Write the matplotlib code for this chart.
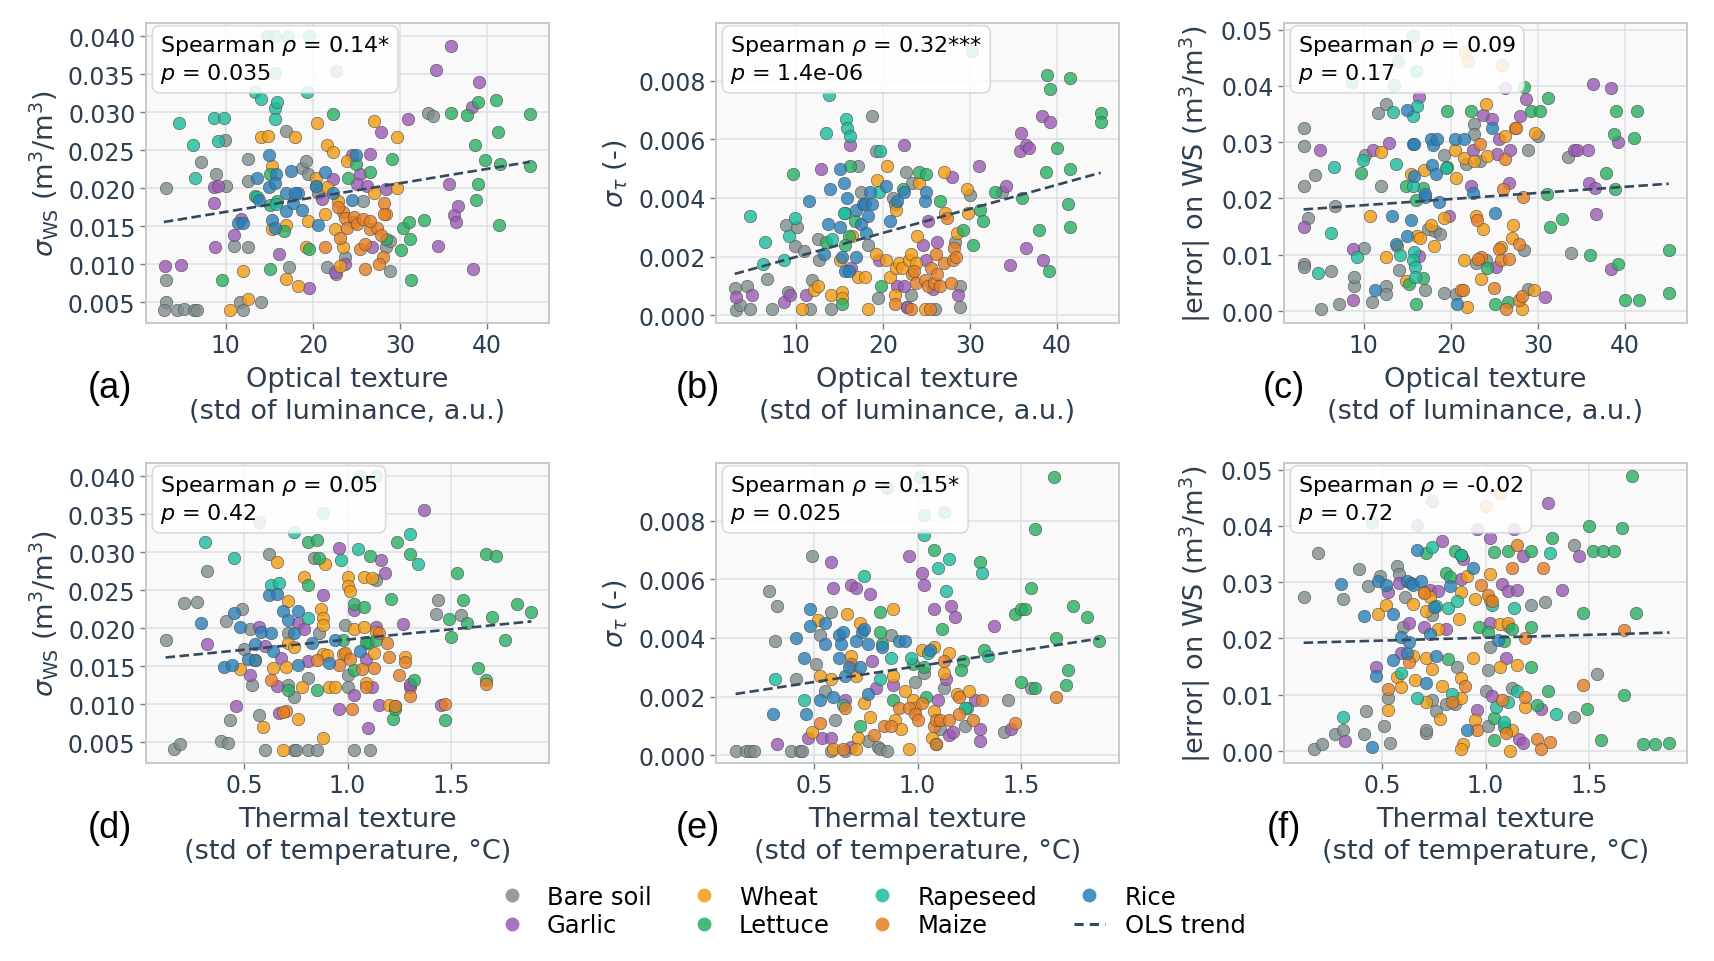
import matplotlib
matplotlib.use('Agg')
import matplotlib.pyplot as plt
import numpy as np
from matplotlib.lines import Line2D

# ---------------- data (y values in units of 1e-3) ----------------
crops = ['Bare soil', 'Garlic', 'Wheat', 'Lettuce', 'Rapeseed', 'Maize', 'Rice']
crop_colors = ['#7f8c8d', '#9b59b6', '#f39c12', '#27ae60', '#1abc9c', '#e67e22', '#2980b9']

# panel (a): optical texture vs sigma_WS
pa_bare = [(3.2,20.0),(3.1,7.9),(3.2,5.0),(2.9,4.0),(4.4,4.0),(5.2,4.1),(6.4,4.0),(6.7,4.0),(7.2,23.4),(8.9,21.9),(9.9,26.4),(10.0,20.3),(10.9,12.4),(11.6,5.0),(12.0,4.0),(12.5,23.8),(12.6,21.0),(12.6,12.2),(14.0,5.0),(16.9,27.5),(17.3,9.6),(18.8,22.7),(19.2,23.6),(19.4,21.8),(20.4,20.3),(20.6,19.4),(21.6,9.6),(22.7,8.7),(22.7,35.4),(23.7,10.9),(25.8,18.3),(28.4,12.2),(28.8,9.1),(28.8,13.1),(33.2,29.9),(33.8,29.5)]
pa_garlic = [(3.0,9.7),(4.9,9.9),(8.7,20.2),(8.7,18.0),(8.8,12.2),(9.1,20.3),(11.0,13.8),(11.7,15.9),(16.1,11.3),(19.6,6.9),(21.0,18.6),(22.3,21.2),(22.5,8.9),(23.7,10.0),(24.5,24.4),(25.4,21.8),(25.1,20.5),(26.2,20.3),(26.6,24.5),(26.8,12.2),(27.8,27.4),(28.4,19.9),(30.9,29.1),(34.1,35.6),(35.8,38.7),(34.4,12.4),(35.6,20.5),(36.2,16.4),(36.4,15.6),(36.7,17.7),(38.3,30.7),(39.1,34.0),(38.4,9.4)]
pa_wheat = [(10.5,4.0),(12.0,9.1),(12.5,5.4),(14.0,26.7),(14.9,26.9),(15.3,22.9),(15.3,14.6),(16.9,15.1),(16.9,8.1),(17.9,26.7),(18.3,7.1),(19.2,12.3),(19.4,15.7),(20.5,28.6),(20.4,21.4),(21.6,25.7),(22.3,24.8),(21.4,16.6),(22.5,14.6),(22.9,18.3),(23.5,12.2),(23.1,9.8),(23.9,23.6),(24.7,15.5),(27.0,28.8),(27.0,19.3),(29.7,26.7),(29.7,20.0),(28.4,16.6),(21.6,20.1)]
pa_lettuce = [(9.6,7.9),(13.4,19.0),(15.1,21.8),(15.1,17.8),(15.9,18.3),(16.7,14.3),(15.1,9.4),(19.5,12.0),(22.3,29.7),(24.0,21.3),(24.9,23.2),(26.6,22.1),(29.1,23.9),(28.4,13.3),(30.1,11.8),(30.3,14.7),(31.0,15.6),(31.1,13.3),(31.3,7.9),(32.8,15.8),(35.8,29.9),(37.7,29.6),(38.6,25.7),(38.9,31.4),(39.0,20.6),(38.7,18.5),(39.8,23.7),(41.0,31.6),(41.3,27.4),(41.5,23.2),(41.4,15.1),(44.9,29.8),(44.9,22.9)]
pa_rapeseed = [(4.6,28.6),(6.2,25.7),(6.5,21.4),(8.6,29.3),(9.8,29.3),(9.1,26.2),(13.4,32.6),(14.0,31.7),(15.6,30.6),(15.9,31.3),(15.6,29.1),(19.3,32.7),(14.7,40.0),(15.7,40.0),(17.1,39.9),(19.6,40.0),(15.7,35.2),(13.6,18.8),(15.8,17.9)]
pa_maize = [(21.4,12.3),(23.1,13.5),(23.5,16.9),(23.7,16.1),(23.9,14.8),(24.7,16.2),(25.1,15.3),(25.4,12.0),(25.8,15.9),(26.0,12.7),(26.0,9.4),(26.6,14.6),(27.4,14.8),(27.8,13.8),(28.0,10.9),(27.6,10.0),(28.2,18.0),(28.2,16.6),(22.9,17.5),(26.6,15.7)]
pa_rice = [(11.4,15.4),(12.0,15.4),(13.6,21.3),(13.8,18.4),(15.0,24.4),(15.0,20.2),(15.3,15.8),(15.7,14.8),(15.8,21.9),(15.7,20.7),(16.9,19.4),(16.9,17.0),(17.5,22.3),(17.7,18.1),(18.3,19.3),(18.8,17.1),(17.9,19.3),(20.6,15.2),(20.4,20.3),(21.4,22.1),(22.3,19.4),(24.5,18.5),(24.9,24.4)]

# panel (b): optical texture vs sigma_tau
pb_bare = [(3.0,0.94),(3.2,0.19),(3.6,0.34),(4.4,1.0),(4.8,0.2),(6.7,1.24),(7.3,0.2),(8.9,3.09),(9.1,0.79),(9.9,2.38),(10.1,3.0),(10.9,2.2),(11.6,0.2),(11.9,1.21),(12.6,2.6),(12.7,1.9),(14.1,0.2),(17.1,5.1),(17.5,4.2),(18.8,6.8),(19.2,5.6),(18.3,2.4),(19.4,0.6),(21.2,4.0),(21.4,3.8),(22.7,4.9),(23.4,4.5),(22.8,0.3),(23.2,0.7),(26.0,0.2),(28.3,2.5),(28.8,1.0),(28.8,0.3),(30.0,4.1),(33.7,4.2)]
pb_garlic = [(3.1,0.64),(5.0,0.7),(8.7,0.45),(9.3,0.7),(11.2,0.7),(12.9,5.0),(16.2,5.8),(16.3,1.6),(19.6,1.9),(22.4,5.8),(21.6,1.0),(22.4,1.0),(22.8,0.3),(25.2,3.2),(26.2,2.5),(24.6,2.4),(25.0,1.9),(25.8,0.9),(27.9,4.7),(28.6,0.7),(31.0,5.1),(34.1,4.4),(34.6,1.7),(35.9,6.2),(35.7,5.6),(36.4,5.8),(36.8,5.7),(36.4,2.3),(38.3,6.8),(39.2,6.6),(38.4,1.9)]
pb_wheat = [(10.7,0.2),(12.1,0.85),(12.6,1.0),(14.1,0.7),(15.3,0.8),(15.3,0.6),(15.1,1.9),(17.1,1.3),(18.0,1.3),(16.5,2.7),(18.3,0.2),(19.2,2.1),(19.3,4.6),(20.5,5.1),(20.4,1.9),(20.8,1.3),(21.5,3.6),(21.5,1.6),(21.8,1.8),(21.4,0.7),(22.2,1.6),(23.0,1.9),(23.2,2.1),(23.8,1.8),(23.9,2.7),(24.1,4.5),(24.8,0.2),(27.0,4.9),(27.1,3.5),(28.5,2.8),(29.7,4.3),(29.8,3.5)]
pb_lettuce = [(9.7,4.8),(13.5,2.5),(15.3,0.4),(16.1,2.7),(16.2,5.1),(16.8,3.2),(15.7,2.4),(19.8,1.0),(22.3,4.3),(24.1,4.9),(24.9,4.8),(26.5,3.9),(29.2,2.9),(30.4,2.4),(31.2,3.6),(31.5,3.2),(32.9,4.2),(36.0,4.0),(37.9,2.9),(38.8,8.2),(39.2,7.7),(38.7,4.9),(39.1,1.5),(40.0,5.7),(41.3,3.8),(41.5,5.0),(41.5,3.0),(41.5,8.1),(45.0,6.9),(45.0,6.6)]
pb_rapeseed = [(4.8,3.4),(6.5,2.5),(6.2,1.75),(8.7,1.9),(9.2,2.7),(9.9,3.3),(13.5,6.2),(13.8,7.5),(15.8,6.7),(15.9,6.4),(16.2,6.1),(15.7,3.5),(15.5,3.5),(14.2,2.6),(19.6,4.2),(19.7,5.6),(30.2,9.0)]
pb_maize = [(21.4,0.4),(23.4,1.4),(23.6,1.5),(23.8,1.1),(24.8,1.2),(25.2,1.0),(25.5,1.6),(25.9,1.1),(26.1,2.1),(26.2,1.4),(26.6,1.0),(27.0,1.8),(27.4,3.3),(27.8,1.1),(28.0,1.9),(28.2,2.3),(28.4,2.0),(23.2,0.2),(25.4,0.2)]
pb_rice = [(11.5,3.9),(13.3,2.1),(13.7,3.1),(13.9,4.3),(15.1,5.0),(15.1,3.0),(15.3,2.0),(15.5,4.5),(15.7,1.5),(15.9,4.0),(16.1,1.5),(16.9,2.0),(16.9,3.6),(17.5,3.1),(17.7,3.8),(17.9,3.8),(18.1,2.8),(18.3,3.4),(18.5,4.2),(18.8,3.8),(20.4,4.4),(20.8,3.2),(21.6,3.9),(22.4,4.2),(24.8,3.9),(25.0,4.2)]

# panel (c): optical texture vs |error|
pc_bare = [(3.2,32.5),(3.2,29.3),(3.1,22.3),(3.1,8.3),(3.1,7.9),(3.6,16.5),(4.4,24.2),(5.1,0.4),(6.2,7.1),(6.7,18.7),(7.2,1.3),(8.9,4.4),(8.9,6.0),(10.0,11.2),(10.1,27.7),(10.9,1.6),(11.6,35.1),(12.0,22.3),(12.5,36.7),(12.6,4.5),(12.6,3.1),(14.1,7.3),(17.0,3.7),(17.4,14.6),(18.2,14.3),(18.8,13.7),(19.2,27.7),(19.2,3.2),(20.6,3.1),(21.7,26.1),(22.6,33.3),(22.6,31.5),(23.4,26.6),(22.9,8.5),(24.0,9.0),(28.4,10.9),(28.8,28.7),(28.8,4.0),(30.0,31.1),(33.4,27.4),(33.8,10.3)]
pc_garlic = [(3.1,15.0),(5.0,28.6),(8.8,11.0),(8.8,2.0),(11.1,28.6),(12.9,29.8),(16.3,38.0),(16.3,9.7),(19.8,16.8),(22.3,22.3),(22.5,28.7),(23.7,34.8),(24.7,34.2),(25.5,30.5),(25.3,27.9),(25.2,7.8),(26.2,39.6),(26.7,22.8),(26.8,28.6),(27.9,34.7),(28.6,37.6),(30.8,2.5),(34.1,28.6),(34.5,28.6),(35.7,28.6),(35.8,22.8),(36.5,21.8),(36.6,17.2),(36.3,40.4),(38.4,39.6),(38.4,7.5),(39.2,30.1)]
pc_wheat = [(10.7,16.9),(12.0,28.3),(12.5,9.6),(13.8,11.6),(14.9,5.4),(15.4,24.3),(16.1,13.4),(16.5,13.0),(16.9,25.0),(17.7,15.3),(18.1,11.5),(19.2,16.5),(20.5,28.7),(20.6,23.6),(21.2,3.8),(21.5,9.0),(21.8,0.7),(21.5,27.2),(22.6,26.7),(22.9,16.8),(23.5,5.7),(23.7,14.6),(24.0,36.8),(24.1,27.6),(26.2,31.1),(25.8,11.3),(27.0,13.0),(27.1,15.3),(27.4,32.5),(28.2,0.4),(29.6,31.7),(29.5,3.7),(21.6,46.0),(25.9,43.8),(22.0,44.5)]
pc_lettuce = [(9.7,24.6),(14.9,22.3),(15.2,4.8),(16.0,19.7),(16.0,1.3),(16.8,21.8),(16.8,5.9),(19.5,25.6),(19.6,35.5),(22.3,35.5),(24.1,7.7),(25.1,1.3),(26.6,1.6),(28.4,39.8),(29.2,35.5),(30.2,35.5),(31.2,37.9),(31.0,20.8),(31.4,14.9),(32.8,16.4),(36.0,9.9),(37.8,24.6),(38.7,31.5),(39.0,35.5),(38.8,21.7),(39.2,8.3),(40.0,2.0),(41.0,30.8),(41.4,35.5),(41.6,2.0),(45.0,10.9),(45.0,3.2)]
pc_rapeseed = [(4.7,6.7),(6.2,13.8),(6.6,25.6),(9.2,9.6),(9.9,26.8),(13.4,35.4),(13.7,26.1),(14.2,10.0),(15.6,34.7),(16.1,36.4),(15.6,22.3),(15.8,10.4),(15.7,9.0),(15.9,7.8),(15.9,6.1),(19.4,25.5),(13.5,40.1),(13.9,44.5),(16.0,42.7),(15.6,48.8),(8.7,40.7)]
pc_maize = [(21.4,3.7),(23.0,16.1),(23.5,9.6),(23.1,9.3),(24.9,4.1),(25.5,11.0),(25.8,9.0),(26.0,21.7),(26.2,27.0),(26.3,0.4),(26.7,9.3),(27.5,32.5),(27.8,11.9),(27.8,2.0),(28.2,2.6),(28.3,20.3),(23.4,29.6)]
pc_rice = [(11.3,3.7),(13.3,16.9),(13.7,11.9),(15.0,13.4),(15.0,35.8),(15.6,29.6),(15.8,29.6),(15.4,16.2),(15.8,24.0),(17.0,20.3),(17.0,20.8),(17.7,30.5),(18.0,29.5),(18.4,30.5),(17.8,26.0),(18.3,24.4),(18.6,19.3),(20.5,30.5),(21.5,30.5),(20.7,1.2),(22.5,20.9),(24.7,32.6),(25.1,17.4)]

# panel (d): thermal texture vs sigma_WS
pd_bare = [(0.12,18.4),(0.16,4.1),(0.19,4.8),(0.21,23.3),(0.27,23.4),(0.32,27.5),(0.39,5.1),(0.42,4.9),(0.41,20.9),(0.43,7.9),(0.49,22.5),(0.53,19.9),(0.50,17.3),(0.54,12.5),(0.57,8.6),(0.60,4.0),(0.62,29.8),(0.71,19.3),(0.71,12.5),(0.74,10.9),(0.74,4.0),(0.75,4.0),(0.81,4.0),(0.85,4.0),(0.81,13.4),(0.84,29.3),(0.86,19.3),(0.99,20.4),(1.00,13.8),(1.00,12.3),(1.03,4.0),(1.11,4.0),(1.14,26.3),(1.23,9.7),(1.43,21.8),(1.44,23.7),(1.55,21.7),(0.57,34.0)]
pd_garlic = [(0.32,17.9),(0.46,9.7),(0.53,13.8),(0.57,20.2),(0.60,17.7),(0.66,12.4),(0.68,16.1),(0.67,8.8),(0.76,20.7),(0.79,19.9),(0.81,15.7),(0.88,24.4),(0.96,30.6),(0.96,9.3),(1.03,22.4),(1.03,11.2),(1.09,15.9),(1.10,6.8),(1.12,12.2),(1.16,29.0),(1.18,27.3),(1.14,20.2),(1.15,9.9),(1.27,20.6),(1.30,12.3),(1.30,12.7),(1.37,35.6),(1.45,9.9)]
pd_wheat = [(0.48,14.6),(0.59,7.0),(0.64,14.7),(0.66,28.7),(0.69,4.0),(0.70,14.9),(0.71,23.6),(0.71,18.0),(0.74,17.5),(0.76,8.0),(0.78,12.2),(0.79,26.7),(0.87,22.5),(0.88,21.4),(0.88,20.4),(0.89,28.5),(0.88,16.6),(0.88,5.5),(0.90,16.4),(0.91,12.2),(0.94,12.3),(1.00,26.8),(1.00,25.6),(1.01,24.9),(0.98,16.6),(1.03,19.9),(1.08,20.1),(1.08,26.7),(1.12,26.6),(1.13,16.7),(1.14,19.5),(1.09,12.8),(1.20,9.9),(1.28,16.2)]
pd_lettuce = [(0.71,11.9),(0.81,25.7),(0.81,31.4),(0.85,31.6),(0.85,11.8),(0.86,29.3),(0.98,18.4),(1.03,23.2),(1.08,22.8),(1.03,14.5),(1.10,18.0),(1.09,18.2),(1.11,29.5),(1.14,18.4),(1.21,23.8),(1.22,8.0),(1.23,9.3),(1.24,31.4),(1.30,29.7),(1.32,13.2),(1.53,27.2),(1.49,21.2),(1.50,18.8),(1.56,23.7),(1.58,20.7),(1.47,7.9),(1.63,14.7),(1.67,13.2),(1.67,29.8),(1.72,29.5),(1.70,21.5),(1.76,18.5),(1.82,23.2),(1.89,22.1)]
pd_rapeseed = [(0.31,31.3),(0.45,29.3),(0.63,25.7),(0.67,26.0),(0.74,32.6),(0.81,21.4),(0.97,29.0),(1.05,30.4),(1.30,32.4),(1.34,28.5),(0.88,35.2),(1.14,40.0),(1.06,40.0)]
pd_maize = [(0.55,15.8),(0.63,13.2),(0.70,9.1),(0.69,9.0),(0.85,15.8),(0.96,15.1),(0.99,16.7),(1.01,16.0),(1.02,9.4),(1.07,14.6),(1.09,12.2),(1.13,14.7),(1.15,19.3),(1.19,18.0),(1.20,16.2),(1.25,13.8),(1.28,15.6),(1.30,11.0),(1.23,9.7),(1.47,10.0),(1.67,12.7)]
pd_rice = [(0.29,20.7),(0.40,14.9),(0.44,15.1),(0.45,22.0),(0.48,20.1),(0.52,16.0),(0.55,17.9),(0.55,15.8),(0.58,19.5),(0.62,24.4),(0.66,24.5),(0.63,19.3),(0.64,17.0),(0.69,22.2),(0.71,21.1),(0.74,19.4),(0.76,22.3),(0.76,15.2),(0.83,18.0),(0.91,15.4),(0.94,18.5),(1.06,17.0)]

# panel (e): thermal texture vs sigma_tau
pe_bare = [(0.12,0.15),(0.17,0.15),(0.19,0.15),(0.21,0.15),(0.28,5.6),(0.32,5.1),(0.31,3.9),(0.39,0.15),(0.43,0.15),(0.44,0.15),(0.41,2.6),(0.49,6.8),(0.51,3.1),(0.53,4.1),(0.55,2.2),(0.58,4.9),(0.58,0.15),(0.60,1.2),(0.65,0.15),(0.76,0.5),(0.81,0.3),(0.82,0.2),(0.85,0.15),(0.87,4.1),(0.99,2.5),(1.03,2.8),(1.13,2.3),(1.11,0.9),(1.23,1.0),(1.44,1.9),(1.42,0.8),(1.55,2.3)]
pe_garlic = [(0.32,0.4),(0.47,0.6),(0.54,0.6),(0.58,0.6),(0.58,6.6),(0.59,5.7),(0.68,5.8),(0.70,5.7),(0.77,5.5),(0.78,3.2),(0.80,2.3),(0.65,1.9),(0.88,2.4),(0.96,6.8),(1.02,6.2),(1.03,5.8),(1.08,5.0),(1.10,1.9),(1.14,2.6),(1.16,5.1),(1.18,4.7),(1.15,0.7),(1.17,0.8),(1.30,0.9),(1.30,0.5),(1.28,1.9),(1.37,4.4),(1.45,0.9),(0.68,0.3)]
pe_wheat = [(0.49,0.8),(0.52,4.6),(0.53,2.7),(0.58,2.6),(0.59,0.2),(0.66,4.8),(0.68,3.4),(0.70,2.7),(0.72,4.5),(0.71,0.6),(0.70,0.2),(0.74,1.8),(0.77,1.3),(0.88,5.0),(0.88,2.7),(0.89,1.2),(0.92,0.9),(0.94,2.2),(0.96,0.2),(0.98,1.9),(0.99,1.6),(1.02,3.6),(1.08,3.7),(1.08,1.5),(1.07,0.6),(1.13,2.8),(1.15,3.5),(1.19,2.1),(1.25,2.2)]
pe_lettuce = [(0.72,1.0),(0.82,4.9),(0.82,4.2),(0.83,3.8),(0.88,1.9),(0.98,3.1),(1.03,3.0),(1.04,2.0),(1.08,7.0),(1.12,4.3),(1.09,0.4),(1.22,3.2),(1.21,2.9),(1.24,1.6),(1.30,6.6),(1.32,3.6),(1.47,4.8),(1.50,5.0),(1.52,5.0),(1.55,5.7),(1.57,7.7),(1.50,2.5),(1.57,2.3),(1.67,4.0),(1.66,9.5),(1.72,2.4),(1.73,2.9),(1.75,5.1),(1.82,4.7),(1.88,3.9),(0.85,9.1)]
pe_rapeseed = [(0.31,2.6),(0.45,1.9),(0.64,1.7),(0.74,6.1),(0.82,2.6),(0.87,3.3),(0.97,3.3),(1.03,7.5),(1.10,6.4),(1.15,6.7),(1.14,5.6),(1.05,3.5),(1.31,6.2),(1.34,3.4),(1.23,1.6),(1.03,8.2),(1.13,8.3),(1.01,9.5)]
pe_maize = [(0.53,1.1),(0.64,0.2),(0.65,1.6),(0.68,3.1),(0.79,0.7),(0.84,1.0),(0.87,1.0),(0.91,1.6),(0.96,1.6),(0.99,1.4),(1.00,1.2),(1.02,1.8),(1.08,1.0),(1.09,1.2),(1.11,1.2),(1.13,3.2),(1.15,1.2),(1.20,1.4),(1.20,2.0),(1.27,1.2),(1.31,1.9),(1.47,1.1),(1.67,2.0),(1.09,0.4)]
pe_rice = [(0.30,1.4),(0.41,4.0),(0.45,3.3),(0.46,1.4),(0.48,5.0),(0.48,4.4),(0.55,4.5),(0.55,3.8),(0.53,1.9),(0.59,2.0),(0.62,4.1),(0.63,3.8),(0.62,3.3),(0.64,4.2),(0.65,2.7),(0.67,3.0),(0.72,3.0),(0.70,3.9),(0.73,4.2),(0.74,4.3),(0.76,3.8),(0.76,2.1),(0.83,3.7),(0.91,3.9),(0.94,3.9),(1.06,3.6)]

# panel (f): thermal texture vs |error|
pf_bare = [(0.12,27.3),(0.17,0.4),(0.21,1.3),(0.19,35.1),(0.27,3.1),(0.31,27.0),(0.31,3.8),(0.39,32.3),(0.42,7.1),(0.41,3.1),(0.43,29.3),(0.49,31.1),(0.51,4.4),(0.53,9.4),(0.54,1.4),(0.57,32.9),(0.58,31.5),(0.61,27.3),(0.60,22.0),(0.71,3.2),(0.71,3.8),(0.74,9.1),(0.76,7.1),(0.74,24.2),(0.81,8.3),(0.85,8.4),(0.86,15.0),(1.00,10.6),(1.01,14.4),(1.02,18.4),(1.01,4.4),(1.11,22.3),(1.13,11.2),(1.22,26.0),(1.29,26.4),(1.43,6.0),(1.43,36.6),(1.54,13.7),(0.74,44.5)]
pf_garlic = [(0.32,1.8),(0.47,14.9),(0.53,28.3),(0.58,29.9),(0.59,17.5),(0.63,22.8),(0.70,22.0),(0.73,28.7),(0.77,28.5),(0.79,37.4),(0.81,21.7),(0.88,30.5),(0.89,34.2),(0.96,7.3),(0.96,39.4),(1.02,37.9),(1.02,22.8),(1.03,9.7),(1.08,29.6),(1.10,16.5),(1.11,28.5),(1.15,28.6),(1.14,39.4),(1.16,2.2),(1.18,1.4),(1.18,34.7),(1.27,7.5),(1.30,44.1),(1.37,28.6),(1.45,34.7),(0.67,40.1)]
pf_wheat = [(0.48,24.3),(0.52,26.0),(0.53,7.3),(0.57,13.2),(0.59,11.3),(0.65,26.2),(0.66,12.6),(0.65,16.8),(0.70,28.2),(0.71,24.8),(0.71,8.7),(0.71,16.6),(0.73,27.4),(0.74,14.6),(0.77,21.7),(0.78,5.7),(0.79,11.6),(0.87,23.4),(0.88,13.0),(0.88,28.2),(0.88,9.4),(0.89,1.2),(0.88,0.4),(0.91,31.1),(0.94,16.5),(0.95,27.0),(0.95,5.5),(1.02,31.5),(1.02,26.8),(1.07,22.5),(1.07,14.9),(1.11,22.7),(1.12,0.0),(1.15,15.2),(1.13,3.8),(1.19,7.8),(1.07,45.8),(1.00,43.6)]
pf_lettuce = [(0.71,35.2),(0.81,31.7),(0.82,16.4),(0.85,35.5),(0.88,34.9),(0.83,30.9),(0.97,22.0),(1.01,21.1),(1.04,35.4),(1.04,2.0),(1.04,5.9),(1.09,19.6),(1.09,4.3),(1.11,35.5),(1.13,21.7),(1.22,14.9),(1.22,22.0),(1.22,35.5),(1.25,8.1),(1.30,10.7),(1.32,37.9),(1.47,24.6),(1.49,7.5),(1.50,40.0),(1.52,35.5),(1.57,35.5),(1.62,35.5),(1.56,2.0),(1.66,39.7),(1.67,9.9),(1.71,48.8),(1.73,24.6),(1.76,1.2),(1.82,1.2),(1.89,1.4)]
pf_rapeseed = [(0.31,6.1),(0.59,13.8),(0.67,9.4),(0.74,36.2),(0.76,25.8),(0.82,25.5),(0.86,26.7),(0.88,34.8),(0.84,10.2),(1.03,26.0),(1.05,7.9),(1.11,8.7),(1.14,25.5),(1.15,10.6),(1.31,35.2),(1.34,6.5),(1.09,5.1),(0.45,40.7)]
pf_maize = [(0.53,11.0),(0.63,15.8),(0.70,28.0),(0.84,8.7),(0.90,11.5),(0.96,3.7),(0.98,29.5),(1.01,27.7),(1.03,26.7),(1.08,9.0),(1.10,3.2),(1.13,32.6),(1.15,36.6),(1.19,20.1),(1.19,9.6),(1.25,2.2),(1.28,32.5),(1.31,1.6),(1.27,0.4),(1.47,11.8),(1.67,21.5)]
pf_rice = [(0.30,29.6),(0.41,24.0),(0.45,0.7),(0.47,13.4),(0.48,30.2),(0.52,29.5),(0.55,24.4),(0.55,16.2),(0.59,20.2),(0.62,17.5),(0.63,19.3),(0.62,30.2),(0.64,29.9),(0.65,29.5),(0.67,35.7),(0.69,30.2),(0.71,12.0),(0.73,20.8),(0.75,25.6),(0.76,16.8),(0.83,29.3),(0.91,3.7),(0.94,32.6),(1.06,19.7)]

panel_data = [
    [pa_bare, pa_garlic, pa_wheat, pa_lettuce, pa_rapeseed, pa_maize, pa_rice],
    [pb_bare, pb_garlic, pb_wheat, pb_lettuce, pb_rapeseed, pb_maize, pb_rice],
    [pc_bare, pc_garlic, pc_wheat, pc_lettuce, pc_rapeseed, pc_maize, pc_rice],
    [pd_bare, pd_garlic, pd_wheat, pd_lettuce, pd_rapeseed, pd_maize, pd_rice],
    [pe_bare, pe_garlic, pe_wheat, pe_lettuce, pe_rapeseed, pe_maize, pe_rice],
    [pf_bare, pf_garlic, pf_wheat, pf_lettuce, pf_rapeseed, pf_maize, pf_rice],
]
stats_rho = ['0.14*', '0.32***', '0.09', '0.05', '0.15*', '-0.02']
stats_p = ['0.035', '1.4e-06', '0.17', '0.42', '0.025', '0.72']
panel_letters = ['(a)', '(b)', '(c)', '(d)', '(e)', '(f)']
xlabels = ['Optical texture\n(std of luminance, a.u.)'] * 3 + ['Thermal texture\n(std of temperature, °C)'] * 3
ylabels = [r'$\sigma_{\mathrm{WS}}$ (m$^3$/m$^3$)', r'$\sigma_\tau$ (-)', r'|error| on WS (m$^3$/m$^3$)'] * 2
yticks_list = [[0.005, 0.010, 0.015, 0.020, 0.025, 0.030, 0.035, 0.040],
               [0.000, 0.002, 0.004, 0.006, 0.008],
               [0.00, 0.01, 0.02, 0.03, 0.04, 0.05]] * 2
ytick_fmt = ['{:.3f}', '{:.3f}', '{:.2f}'] * 2
xticks_list = [[10, 20, 30, 40]] * 3 + [[0.5, 1.0, 1.5]] * 3
xtick_fmt = ['{:.0f}'] * 3 + ['{:.1f}'] * 3
ylims = [(0.00224, 0.04175), (-0.00026, 0.00996), (-0.00213, 0.05118)] * 2
xlims = [(0.85, 47.1)] * 3 + [(0.025, 1.975)] * 3

# ---------------- figure ----------------
plt.rcParams['font.family'] = ['DejaVu Sans']
plt.rcParams['mathtext.fontset'] = 'dejavusans'

W, H = 1714, 962
fig = plt.figure(figsize=(W / 100, H / 100), dpi=100)

col_left = [146, 716, 1284]
row_top = [24, 464]
aw, ah = 403, 300
letter_x = [110, 698, 1284]

text_col = '#2c3e50'
trend_col = '#34495e'

for i in range(6):
    r, c = divmod(i, 3)
    ax = fig.add_axes([col_left[c] / W, 1 - (row_top[r] + ah) / H, aw / W, ah / H])
    ax.set_facecolor('#f9f9f9')
    allx, ally = [], []
    for k, pts in enumerate(panel_data[i]):
        xs = np.array([p[0] for p in pts])
        ys = np.array([p[1] for p in pts]) * 1e-3
        allx.extend(xs); ally.extend(ys)
        ax.scatter(xs, ys, s=80, color=crop_colors[k], alpha=0.8,
                   edgecolors='#4d4d4d', linewidths=0.5, zorder=3)
    allx = np.array(allx); ally = np.array(ally)
    slope, icpt = np.polyfit(allx, ally, 1)
    xx = np.array([allx.min(), allx.max()])
    ax.plot(xx, slope * xx + icpt, ls=(0, (3.6, 1.7)), color=trend_col, lw=1.9, zorder=4)

    ax.set_xlim(*xlims[i]); ax.set_ylim(*ylims[i])
    ax.set_xticks(xticks_list[i])
    ax.set_xticklabels([xtick_fmt[i].format(v) for v in xticks_list[i]])
    ax.set_yticks(yticks_list[i])
    ax.set_yticklabels([ytick_fmt[i].format(v) for v in yticks_list[i]])
    ax.grid(True, color='#dfe3e6', lw=1.2, zorder=0)
    ax.set_axisbelow(True)
    for sp in ax.spines.values():
        sp.set_color('#c3cbd0'); sp.set_linewidth(1.4)
    ax.tick_params(axis='both', labelsize=17, labelcolor=text_col, color='#6c7a89',
                   length=4, width=1.0)
    ax.set_xlabel(xlabels[i], fontsize=19.5, color=text_col, labelpad=6, linespacing=1.3)
    ax.set_ylabel(ylabels[i], fontsize=19.5, color=text_col, labelpad=6)
    ax.text(0.035, 0.965, 'Spearman $\\rho$ = ' + stats_rho[i] + '\n$p$ = ' + stats_p[i],
            transform=ax.transAxes, ha='left', va='top', fontsize=16, color='black',
            zorder=6, linespacing=1.2,
            bbox=dict(boxstyle='round,pad=0.35', fc='white', ec='#d0d7db', lw=1.2, alpha=0.85))
    fig.text(letter_x[c] / W, 1 - (row_top[r] + ah + 64) / H, panel_letters[i],
             fontsize=26, family=['Liberation Sans', 'DejaVu Sans'], color='black',
             ha='center', va='center')

handles = []
labels = []
for k in range(len(crops)):
    handles.append(Line2D([], [], marker='o', ls='', color=crop_colors[k], markersize=10,
                          alpha=0.85, markeredgewidth=0))
    labels.append(crops[k])
handles.append(Line2D([], [], ls=(0, (3, 2)), color=trend_col, lw=2.2))
labels.append('OLS trend')

fig.legend(handles, labels, loc='center', bbox_to_anchor=(0.508, 1 - 912 / H), ncol=4,
           frameon=False, fontsize=17.5, handlelength=1.3, handletextpad=0.8,
           columnspacing=1.5, labelspacing=0.2)

fig.savefig('out.png', dpi=100)
